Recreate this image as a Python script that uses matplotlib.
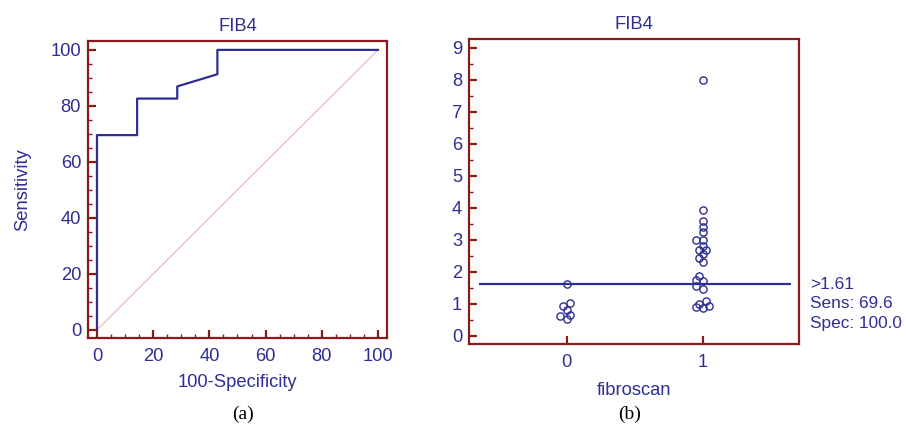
import matplotlib
matplotlib.use('Agg')
import matplotlib.pyplot as plt
import numpy as np
from matplotlib.ticker import MultipleLocator

# FIB4 values per fibroscan group
fib4_neg = [0.52, 0.61, 0.66, 0.81, 0.95, 1.03, 1.61]
fib4_pos = [0.87, 0.90, 0.95, 1.01, 1.09, 1.47, 1.55, 1.72, 1.75, 1.86,
            2.32, 2.44, 2.56, 2.68, 2.68, 2.81, 3.01, 3.01, 3.24, 3.41,
            3.59, 3.94, 8.0]
groups = [0, 1]
cutoff = 1.61

BLUE = '#2e2e94'
RED = '#8b1a1a'
FS = 13.2
plt.rcParams['font.family'] = ['Liberation Sans', 'DejaVu Sans']


def roc_points(neg, pos):
    neg = np.array(neg)
    pos = np.array(pos)
    fpr, tpr = [0.0], [0.0]
    for t in sorted(set(neg) | set(pos), reverse=True):
        fpr.append(100.0 * np.sum(neg >= t) / len(neg))
        tpr.append(100.0 * np.sum(pos >= t) / len(pos))
    return fpr, tpr


def swarm(values, px_per_unit, slot, dist):
    # greedy dot plot: put each point in the nearest free slot
    placed = []
    offs = []
    for v in sorted(values):
        y = v * px_per_unit
        for k in [0, -1, 1, -2, 2, -3, 3, -4, 4]:
            x = k * slot
            if all(np.hypot(x - px, y - py) >= dist for px, py in placed):
                break
        placed.append((x, y))
        offs.append(k)
    return sorted(values), offs


def style_axes(ax):
    for s in ax.spines.values():
        s.set_color(RED)
        s.set_linewidth(1.6)
    ax.tick_params(which='both', direction='in', color=RED,
                   labelcolor=BLUE, labelsize=FS, top=False, right=False)
    ax.tick_params(which='major', length=5.5, width=1.6)
    ax.tick_params(which='minor', length=3, width=1)
    ax.tick_params(axis='y', pad=5)
    ax.tick_params(axis='x', pad=7)


fig = plt.figure(figsize=(9.06, 4.25), dpi=100)

# (a) ROC curve
ax1 = fig.add_axes([0.0971, 0.2047, 0.330, 0.699])
fpr, tpr = roc_points(fib4_neg, fib4_pos)
ax1.plot([0, 100], [0, 100], color='#e8a8a8', lw=0.7)
ax1.plot(fpr, tpr, color=BLUE, lw=1.6)
ax1.set_xlim(-3.2, 103.2)
ax1.set_ylim(-2.9, 103.2)
ax1.xaxis.set_major_locator(MultipleLocator(20))
ax1.yaxis.set_major_locator(MultipleLocator(20))
ax1.xaxis.set_minor_locator(MultipleLocator(5))
ax1.yaxis.set_minor_locator(MultipleLocator(5))
style_axes(ax1)
ax1.set_title('FIB4', color=BLUE, fontsize=FS, pad=7)
ax1.set_xlabel('100-Specificity', color=BLUE, fontsize=FS, labelpad=7)
ax1.set_ylabel('Sensitivity', color=BLUE, fontsize=FS, labelpad=14)

# (b) dot plot
ax2 = fig.add_axes([0.5177, 0.1906, 0.3642, 0.7176])
xlim = (-0.72, 1.71)
ylim = (-0.25, 9.27)
px_y = 0.7176 * 425 / (ylim[1] - ylim[0])
px_x = 0.3642 * 906 / (xlim[1] - xlim[0])
slot = 3.4
for g, vals in zip(groups, [fib4_neg, fib4_pos]):
    yv, ks = swarm(vals, px_y, slot, 4.5)
    xv = [g + k * slot / px_x for k in ks]
    ax2.plot(xv, yv, 'o', ms=5.2, mfc='none', mec=BLUE, mew=1)
ax2.hlines(cutoff, -0.65, 1.65, color=BLUE, lw=1.6)
ax2.set_xlim(*xlim)
ax2.set_ylim(*ylim)
ax2.set_xticks(groups)
ax2.yaxis.set_major_locator(MultipleLocator(1))
ax2.yaxis.set_minor_locator(MultipleLocator(0.5))
style_axes(ax2)
ax2.set_title('FIB4', color=BLUE, fontsize=FS, pad=7)
ax2.set_xlabel('fibroscan', color=BLUE, fontsize=FS, labelpad=8)

sens = 100.0 * np.mean(np.array(fib4_pos) > cutoff)
spec = 100.0 * np.mean(np.array(fib4_neg) <= cutoff)
fig.text(0.894, 0.349, '>%.2f\nSens: %.1f\nSpec: %.1f' % (cutoff, sens, spec),
         color=BLUE, fontsize=12.4, va='top', ha='left', linespacing=1.38)

fig.text(0.268, 0.024, '(a)', family='Liberation Serif', fontsize=14,
         ha='center', va='center')
fig.text(0.695, 0.024, '(b)', family='Liberation Serif', fontsize=14,
         ha='center', va='center')

plt.savefig('out.png', dpi=100)
